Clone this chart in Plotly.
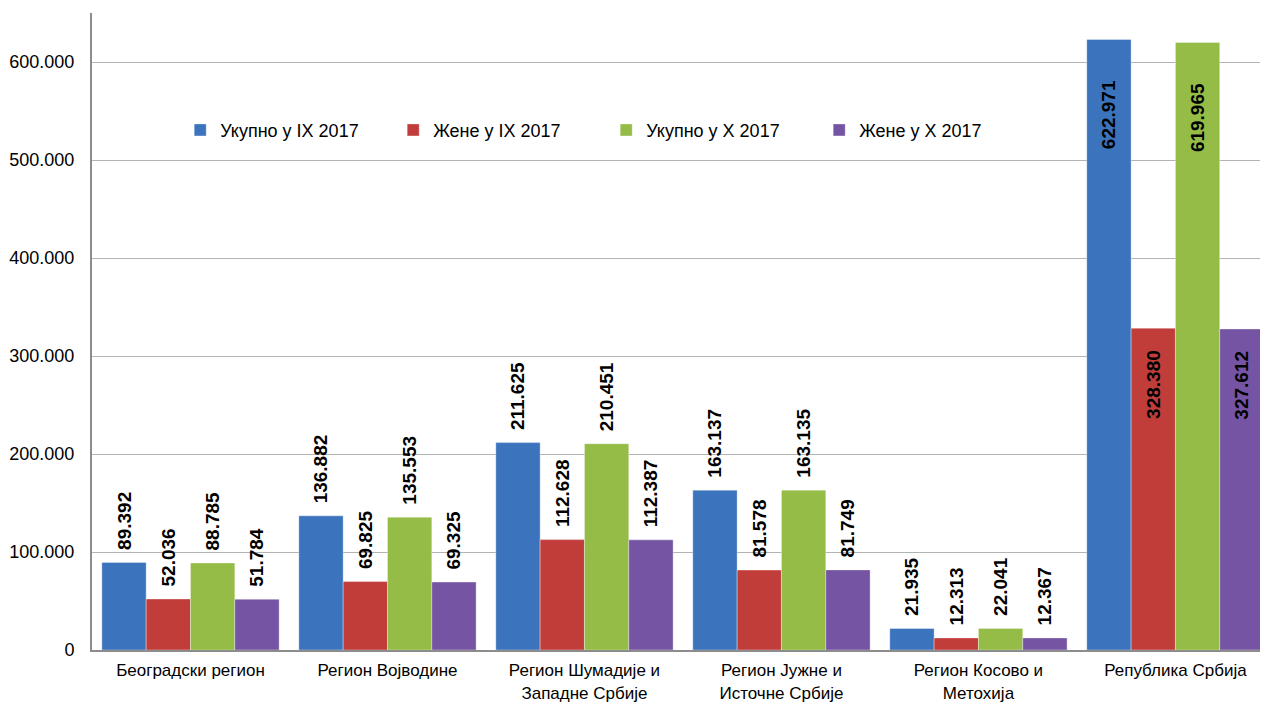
import plotly.graph_objects as go

regions = [
    "Београдски регион",
    "Регион Војводине",
    "Регион Шумадије и<br>Западне Србије",
    "Регион Јужне и<br>Источне Србије",
    "Регион Косово и<br>Метохија",
    "Република Србија",
]
series_names = ["Укупно у IX 2017", "Жене у IX 2017", "Укупно у X 2017", "Жене у X 2017"]
total_ix = [89392, 136882, 211625, 163137, 21935, 622971]
women_ix = [52036, 69825, 112628, 81578, 12313, 328380]
total_x = [88785, 135553, 210451, 163135, 22041, 619965]
women_x = [51784, 69325, 112387, 81749, 12367, 327612]
colors = ["#3b73bd", "#c13d3a", "#94bc47", "#7555a3"]

FONT = "Liberation Sans, Arial, sans-serif"


def fmt(v):
    return f"{v:,}".replace(",", ".")


fig = go.Figure()
for i, (name, vals, col) in enumerate(zip(series_names, [total_ix, women_ix, total_x, women_x], colors)):
    # the last category (whole country) gets its label inside the bar,
    # pushed further down on the tall "total" bars
    pad = "\u2002" * (4 if i % 2 == 0 else 2)
    texts = ["\u2002" + fmt(v) for v in vals[:-1]] + [fmt(vals[-1]) + pad]
    pos = ["outside"] * (len(vals) - 1) + ["inside"]
    fig.add_trace(go.Bar(
        x=regions,
        y=vals,
        name=name,
        marker=dict(color=col, line=dict(color="rgba(255,255,255,0.35)", width=1)),
        text=texts,
        textposition=pos,
        textangle=-90,
        insidetextanchor="end",
        constraintext="none",
        cliponaxis=False,
        textfont=dict(family=FONT, size=19, color="black", weight="bold"),
    ))

# page body has an 8px margin, so the figure is drawn 8px smaller
fig.update_layout(
    width=1260,
    height=694,
    barmode="group",
    bargap=0.10,
    bargroupgap=0,
    separators=",.",
    paper_bgcolor="white",
    plot_bgcolor="white",
    margin=dict(l=84, r=0, t=5, b=52, autoexpand=False),
    font=dict(family=FONT, size=18, color="black"),
    showlegend=True,
    legend=dict(
        orientation="h",
        x=0.075, xanchor="left",
        y=0.816, yanchor="middle",
        font=dict(size=18),
        entrywidth=168,
        entrywidthmode="pixels",
        itemwidth=30,
        bgcolor="rgba(0,0,0,0)",
    ),
)
fig.update_yaxes(
    range=[0, 650000],
    tickvals=[0, 100000, 200000, 300000, 400000, 500000, 600000],
    tickformat=",d",
    showgrid=True,
    gridcolor="#b3b3b3",
    gridwidth=1,
    showline=True,
    linecolor="#8c8c8c",
    linewidth=2,
    ticks="",
    ticklabelstandoff=12,
    zeroline=False,
    automargin=False,
)
fig.update_xaxes(
    range=[-0.5, 5.47],
    showline=True,
    linecolor="#8c8c8c",
    linewidth=2,
    ticks="",
    tickfont=dict(size=17),
    ticklabelstandoff=4,
    automargin=False,
)

fig.write_html("out.html")
